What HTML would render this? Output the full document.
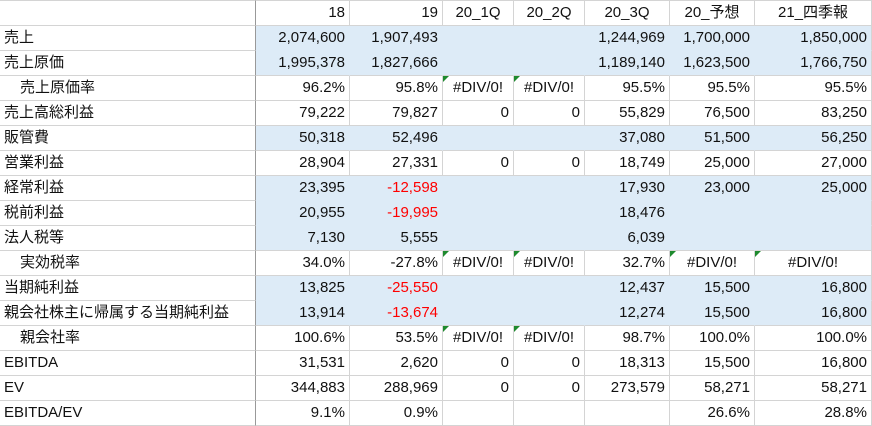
<!DOCTYPE html>
<html><head><meta charset="utf-8"><style>
body{margin:0;width:872px;height:426px;overflow:hidden;background:#fff;font-family:"Liberation Sans","Noto Sans CJK JP",sans-serif;}
#sheet{position:absolute;left:0;top:0;width:872px;height:426px;}
.c{position:absolute;box-sizing:border-box;font-size:15px;line-height:24px;white-space:nowrap;color:#111;border-right:1px solid #d4d4d4;border-bottom:1px solid #d4d4d4;}
.r{text-align:right;padding-right:4px}
.m{text-align:center}
.l{text-align:left;padding-left:4px}
.neg{color:#ff0000}
.tri{position:absolute;left:0;top:0;width:0;height:0;border-top:6px solid #1e8a2e;border-right:6px solid transparent;}
</style></head><body>
<div id="sheet"></div>
<script>
const colEdges=[0,256,350,443,514,585,670,755,872];
const headers=["","18","19","20_1Q","20_2Q","20_3Q","20_予想","21_四季報"];
const labels=["売上","売上原価","売上原価率","売上高総利益","販管費","営業利益","経常利益","税前利益","法人税等","実効税率","当期純利益","親会社株主に帰属する当期純利益","親会社率","EBITDA","EV","EBITDA/EV"];
const indented=[2,9,12];
const shaded=[0,1,4,6,7,8,10,11];
const redRows=[6,7,10,11];
const values=[
["2,074,600","1,907,493","","","1,244,969","1,700,000","1,850,000"],
["1,995,378","1,827,666","","","1,189,140","1,623,500","1,766,750"],
["96.2%","95.8%","#DIV/0!","#DIV/0!","95.5%","95.5%","95.5%"],
["79,222","79,827","0","0","55,829","76,500","83,250"],
["50,318","52,496","","","37,080","51,500","56,250"],
["28,904","27,331","0","0","18,749","25,000","27,000"],
["23,395","-12,598","","","17,930","23,000","25,000"],
["20,955","-19,995","","","18,476","",""],
["7,130","5,555","","","6,039","",""],
["34.0%","-27.8%","#DIV/0!","#DIV/0!","32.7%","#DIV/0!","#DIV/0!"],
["13,825","-25,550","","","12,437","15,500","16,800"],
["13,914","-13,674","","","12,274","15,500","16,800"],
["100.6%","53.5%","#DIV/0!","#DIV/0!","98.7%","100.0%","100.0%"],
["31,531","2,620","0","0","18,313","15,500","16,800"],
["344,883","288,969","0","0","273,579","58,271","58,271"],
["9.1%","0.9%","","","","26.6%","28.8%"]
];
const sheet=document.getElementById('sheet');
function rowTop(i){return i===0?0:26+(i-1)*25;}
function cell(x,y,w,h,text,cls,bg){
 const d=document.createElement('div');
 d.className='c '+cls;
 d.style.left=x+'px';d.style.top=y+'px';d.style.width=w+'px';d.style.height=h+'px';
 if(bg){d.style.background=bg;}
 d.textContent=text;
 sheet.appendChild(d);return d;
}
for(let c=0;c<headers.length;c++){
 const x=colEdges[c],w=colEdges[c+1]-x;
 const d=cell(x,0,w,26,headers[c],(c===0||c===1||c===2)?'r':'m');
 d.style.borderTop='1px solid #d4d4d4';
 if(c===0)d.style.borderRight='1px solid #999';
 
 
}
for(let r=0;r<labels.length;r++){
 const y=rowTop(r+1),h=25;
 const lab=cell(0,y,256,h,labels[r],'l');
 if(indented.includes(r))lab.style.paddingLeft='20px';
 lab.style.borderRight='1px solid #999';
 
 
 const sh=shaded.includes(r);
 const shNext=shaded.includes(r+1);
 for(let c=0;c<7;c++){
  const x=colEdges[c+1],w=colEdges[c+2]-x;
  const v=values[r][c];
  const isErr=v==='#DIV/0!';
  const d=cell(x,y,w,h,v,isErr?'m':'r',sh?'#ddebf7':null);
  if(sh){d.style.borderRight=c<6?'1px solid #ddebf7':'1px solid #d4d4d4';if(shNext)d.style.borderBottom='1px solid #ddebf7';}
  if(v.startsWith('-')&&redRows.includes(r))d.classList.add('neg');
  if(isErr){const t=document.createElement('div');t.className='tri';d.appendChild(t);}
  
  
 }
}
</script>
</body></html>
